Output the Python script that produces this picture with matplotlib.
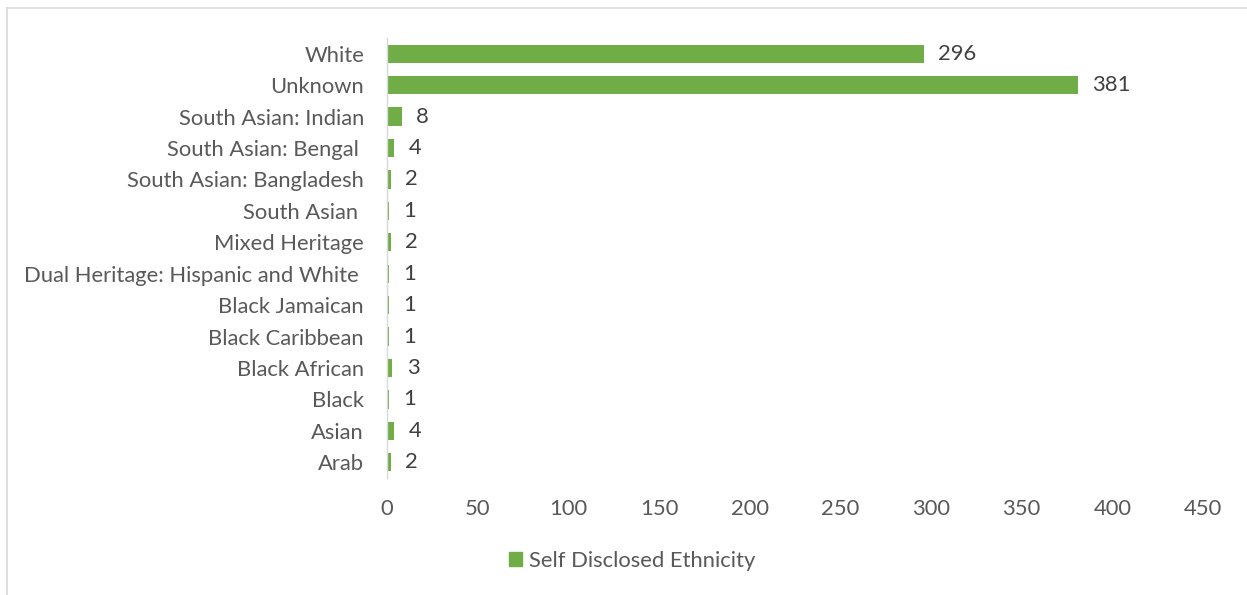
import matplotlib
matplotlib.use("Agg")
import matplotlib.pyplot as plt
from matplotlib.lines import Line2D

plt.rcParams['font.family'] = ['Lato', 'DejaVu Sans']

categories = ["White", "Unknown", "South Asian: Indian", "South Asian: Bengal ",
              "South Asian: Bangladesh", "South Asian ", "Mixed Heritage",
              "Dual Heritage: Hispanic and White ", "Black Jamaican", "Black Caribbean",
              "Black African", "Black", "Asian", "Arab"]
values = [296, 381, 8, 4, 2, 1, 2, 1, 1, 1, 3, 1, 4, 2]
xticks = [0, 50, 100, 150, 200, 250, 300, 350, 400, 450]
series_name = "Self Disclosed Ethnicity"

green = "#70AD47"
txt = "#595959"
fs = 15.8

fig = plt.figure(figsize=(12.47, 5.95), dpi=100)
ax = fig.add_axes([387/1247, 1-478/595, (1203-387)/1247, (478-38)/595])

ypos = list(range(len(categories)))
bars = ax.barh(ypos, values, height=0.58, color=green, label=series_name)
ax.set_ylim(len(categories) - 0.5, -0.5)
ax.set_xlim(0, 450)
ax.set_xticks(xticks)
ax.set_yticks(ypos)
ax.set_yticklabels(categories)
ax.tick_params(axis='both', length=0, labelsize=fs, colors=txt)
ax.tick_params(axis='y', pad=16.5)
ax.tick_params(axis='x', pad=15)
for s in ['top', 'right', 'bottom']:
    ax.spines[s].set_visible(False)
ax.spines['left'].set_color("#D9D9D9")
ax.spines['left'].set_linewidth(1.0)

for y, v in zip(ypos, values):
    ax.annotate(str(v), xy=(v, y), xytext=(10.5, 0), textcoords='offset points',
                ha='left', va='center', fontsize=fs, color="#404040")

leg = fig.legend(handles=[plt.Rectangle((0, 0), 1, 1, color=green)], labels=[series_name],
                 loc='center', bbox_to_anchor=(632/1247, 1-561/595), frameon=False,
                 fontsize=fs, handlelength=0.6, handleheight=0.6, handletextpad=0.3)
for t in leg.get_texts():
    t.set_color(txt)

# chart frame (partially visible)
fig.add_artist(Line2D([7/1247, 1], [1-8/595, 1-8/595], transform=fig.transFigure,
                      color="#D9D9D9", linewidth=1.2))
fig.add_artist(Line2D([7/1247, 7/1247], [0, 1-8/595], transform=fig.transFigure,
                      color="#D9D9D9", linewidth=1.2))

fig.savefig("out.png", dpi=100)
